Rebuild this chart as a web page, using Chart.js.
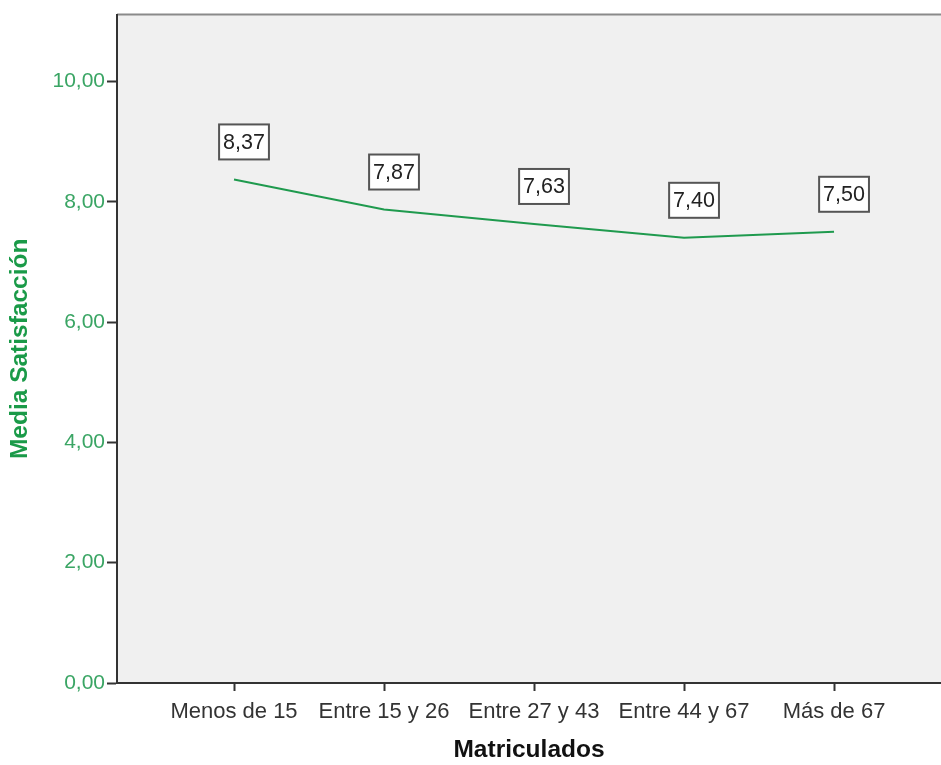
<!DOCTYPE html>
<html>
<head>
<meta charset="utf-8">
<script src="https://cdn.jsdelivr.net/npm/chart.js@4/dist/chart.umd.min.js"></script>
<style>
  html, body { margin: 0; padding: 0; background: #ffffff; }
  #wrap { width: 941px; height: 765px; position: relative; }
</style>
</head>
<body>
<div id="wrap"><canvas id="chartCanvas"></canvas></div>
<script>
// datos del gráfico
const categorias = ["Menos de 15", "Entre 15 y 26", "Entre 27 y 43", "Entre 44 y 67", "Más de 67"];
const medias = [8.37, 7.87, 7.63, 7.40, 7.50];
const ticksY = [0, 2, 4, 6, 8, 10];

const verde = "#1f9a4e";
const verdeTexto = "#3aa564";
const fuente = "'Liberation Sans', Arial, sans-serif";

const fmt = v => v.toFixed(2).replace(".", ",");

// fondo gris y borde superior del área de trazado
const fondoPlugin = {
    id: "fondo",
    beforeDraw(chart) {
        const { ctx, chartArea: a } = chart;
        ctx.save();
        ctx.fillStyle = "#f0f0f0";
        ctx.fillRect(a.left, a.top, a.right - a.left, a.bottom - a.top);
        ctx.strokeStyle = "#8a8a8a";
        ctx.lineWidth = 2;
        ctx.beginPath();
        ctx.moveTo(a.left, a.top);
        ctx.lineTo(a.right, a.top);
        ctx.stroke();
        ctx.restore();
    }
};

// etiquetas con recuadro encima de cada punto
const etiquetasPlugin = {
    id: "etiquetas",
    afterDatasetsDraw(chart) {
        const { ctx } = chart;
        const meta = chart.getDatasetMeta(0);
        ctx.save();
        ctx.font = "21.5px " + fuente;
        ctx.textAlign = "center";
        ctx.textBaseline = "middle";
        meta.data.forEach((pt, i) => {
            const txt = fmt(medias[i]);
            const w = ctx.measureText(txt).width + 8;
            const h = 35;
            const cx = pt.x + 10;
            const bottom = pt.y - 20;
            ctx.fillStyle = "#ffffff";
            ctx.fillRect(cx - w / 2, bottom - h, w, h);
            ctx.strokeStyle = "#555555";
            ctx.lineWidth = 2;
            ctx.strokeRect(cx - w / 2, bottom - h, w, h);
            ctx.fillStyle = "#222222";
            ctx.fillText(txt, cx, bottom - h / 2 + 1);
        });
        ctx.restore();
    }
};

const config = {
    type: "line",
    data: {
        datasets: [
            {
                label: "Media Satisfacción",
                data: medias.map((v, i) => ({ x: i, y: v })),
                borderColor: verde,
                borderWidth: 2,
                pointRadius: 0,
                tension: 0
            }
        ]
    },
    options: {
        responsive: false,
        animation: false,
        layout: { padding: { top: 12, left: 0, right: 0, bottom: 0 } },
        scales: {
            x: {
                type: "linear",
                min: -0.78,
                max: 4.713,
                afterBuildTicks: s => { s.ticks = categorias.map((c, i) => ({ value: i })); },
                afterFit: s => { s.height = 82; },
                ticks: {
                    autoSkip: false,
                    maxRotation: 0,
                    padding: 8,
                    color: "#333333",
                    font: { family: fuente, size: 22 },
                    callback: v => categorias[v]
                },
                grid: {
                    drawOnChartArea: false,
                    drawTicks: true,
                    tickLength: 8,
                    tickWidth: 2,
                    color: "#333333"
                },
                border: { color: "#333333", width: 2 },
                title: {
                    display: true,
                    text: "Matriculados",
                    color: "#111111",
                    font: { family: fuente, size: 24.5, weight: "bold" },
                    padding: { top: 2, bottom: 0 }
                }
            },
            y: {
                min: 0,
                max: 11.11,
                afterBuildTicks: s => { s.ticks = ticksY.map(v => ({ value: v })); },
                afterFit: s => { s.width = 117; },
                ticks: {
                    padding: 2,
                    color: verdeTexto,
                    font: { family: fuente, size: 21 },
                    callback: v => fmt(v)
                },
                grid: {
                    drawOnChartArea: false,
                    drawTicks: true,
                    tickLength: 10,
                    tickWidth: 2,
                    color: "#333333"
                },
                border: { color: "#333333", width: 2 },
                title: {
                    display: true,
                    text: "Media Satisfacción",
                    color: "#1a9a48",
                    font: { family: fuente, size: 24.5, weight: "bold" },
                    padding: { top: 6, bottom: 0 }
                }
            }
        },
        plugins: {
            legend: { display: false },
            tooltip: { enabled: false }
        }
    },
    plugins: [fondoPlugin, etiquetasPlugin]
};

const canvas = document.getElementById("chartCanvas");
canvas.width = 941;
canvas.height = 765;
const chart = new Chart(canvas.getContext("2d"), config);
</script>
</body>
</html>
